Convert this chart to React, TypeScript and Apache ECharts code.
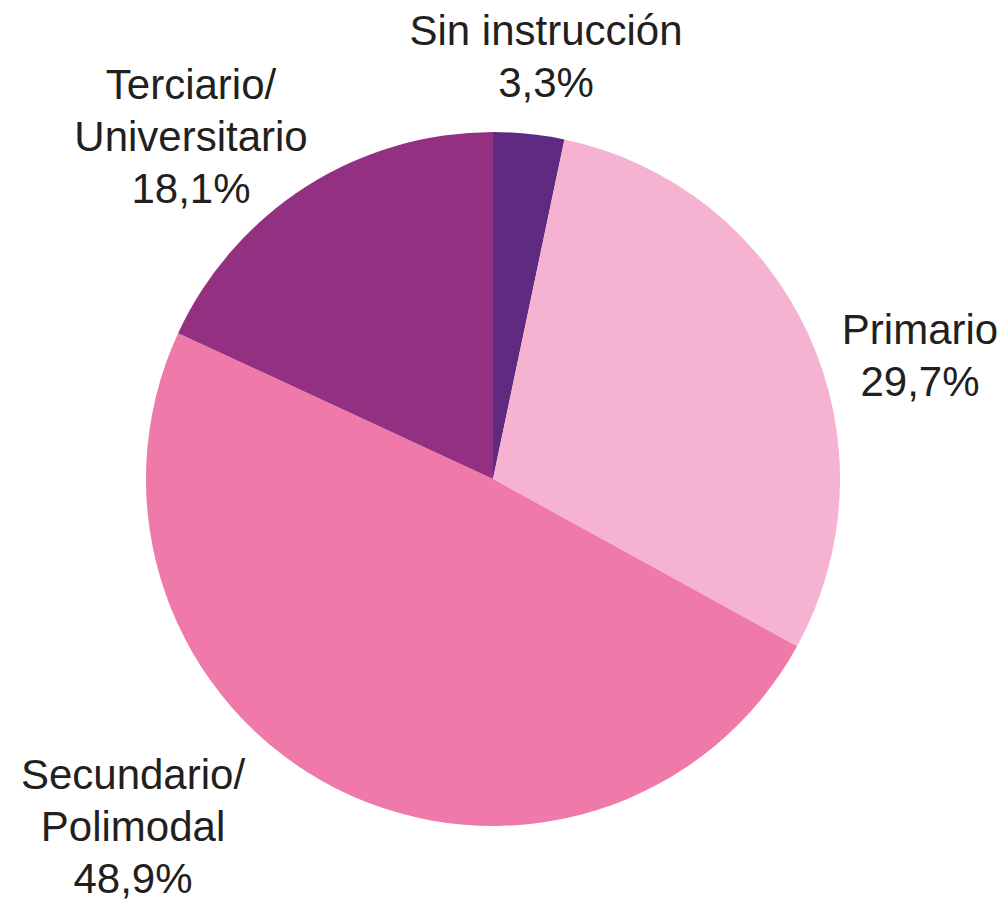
import React, { useEffect, useRef } from "react";
import * as echarts from "echarts";

const categories = ["Sin instrucción", "Primario", "Secundario/\nPolimodal", "Terciario/\nUniversitario"];
const values = [3.3, 29.7, 48.9, 18.1];
const colors = ["#5f2a80", "#f6b3d1", "#ef7aa9", "#943081"];
// label anchor positions (centre of each text block), in pixels
const labelPos: [number, number][] = [
  [546, 56],
  [920, 355],
  [133, 826],
  [191, 136],
];

export default function App() {
  const ref = useRef<HTMLDivElement>(null);
  useEffect(() => {
    document.body.style.margin = "0";
    const chart = echarts.init(ref.current!, null, { renderer: "svg" });
    chart.setOption({
      animation: false,
      backgroundColor: "#ffffff",
      series: [
        {
          type: "pie",
          center: [493, 479],
          radius: 347,
          startAngle: 90,
          clockwise: true,
          avoidLabelOverlap: false,
          itemStyle: { borderWidth: 0 },
          label: {
            show: true,
            position: "outside",
            formatter: (p: any) => `${p.name}\n${p.value.toFixed(1).replace(".", ",")}%`,
            fontFamily: "Liberation Sans, Arial, Helvetica, sans-serif",
            fontSize: 42,
            lineHeight: 52,
            color: "#231f20",
            align: "center",
          },
          labelLine: { show: false },
          labelLayout: (params: any) => {
            const [x, y] = labelPos[params.dataIndex];
            return { x, y, align: "center", verticalAlign: "middle" };
          },
          data: categories.map((name, i) => ({
            name,
            value: values[i],
            itemStyle: { color: colors[i] },
          })),
        },
      ],
    });
    return () => chart.dispose();
  }, []);
  return <div ref={ref} style={{ width: 1005, height: 900 }} />;
}
